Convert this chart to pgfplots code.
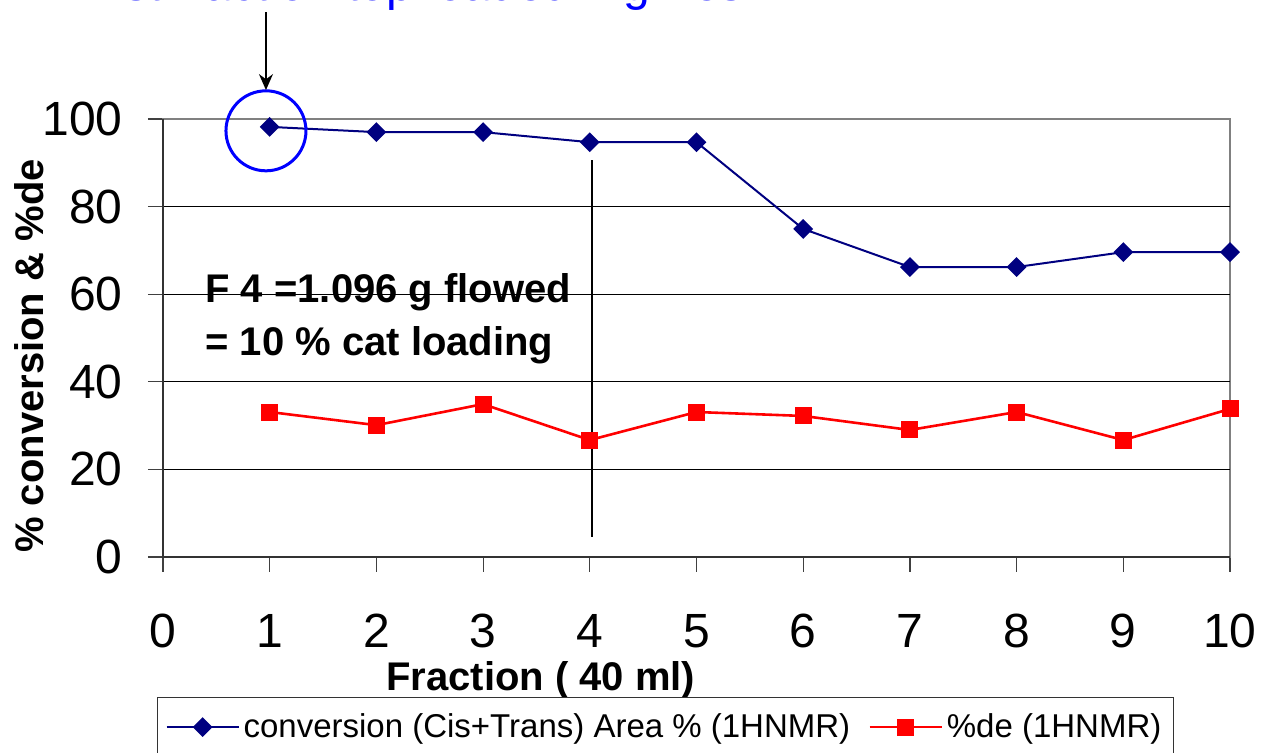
\documentclass[border=0pt]{standalone}
\usepackage{fontspec}
\setmainfont{Liberation Sans}
\usepackage{pgfplots}
\pgfplotsset{compat=1.18}
\usetikzlibrary{arrows.meta}
\definecolor{convblue}{RGB}{0,0,128}

\begin{document}
\begin{tikzpicture}
\path[use as bounding box] (-81.5pt,-98pt) rectangle (551pt,278.5pt);
\begin{axis}[
  at={(0,0)}, anchor=south west,
  scale only axis, width=533.5pt, height=219pt,
  xmin=0, xmax=10, ymin=0, ymax=100,
  xtick={0,...,10}, ytick={0,20,...,100},
  xtick pos=bottom, ytick pos=left, tick align=outside,
  major tick length=7.5pt,
  tick style={black!75, line width=0.6pt},
  axis line style={black!50, line width=0.9pt},
  /pgf/number format/assume math mode=true,
  tick label style={font=\fontsize{24}{28}\selectfont},
  yticklabel style={inner sep=0pt, anchor=east},
  yticklabel shift=12.5pt,
  xticklabel style={inner sep=0pt, anchor=base, yshift=-38pt},
  xlabel={Fraction ( 40 ml)},
  ylabel={\% conversion \& \%de},
  label style={font=\bfseries\fontsize{20}{24}\selectfont},
  xlabel style={at={(axis description cs:0.354,-0.304)}, anchor=base, inner sep=0pt},
  ylabel style={at={(axis description cs:-0.125,0.459)}, anchor=center},
  legend columns=2,
  legend style={at={(axis description cs:-0.0056,-0.3196)}, anchor=north west,
    draw=black!80, line width=0.6pt, font=\fontsize{16.5}{19}\selectfont,
    inner xsep=4pt, inner ysep=6pt,
    /tikz/every even column/.append style={column sep=7pt}},
  legend image code/.code={\draw[#1, mark repeat=2, mark phase=2] plot coordinates {(0pt,0pt) (18pt,0pt) (36pt,0pt)};},
  clip=false,
]
% horizontal grid lines
\draw[black, line width=0.5pt] (axis cs:0,20) -- (axis cs:10,20);
\draw[black, line width=0.5pt] (axis cs:0,40) -- (axis cs:10,40);
\draw[black, line width=0.5pt] (axis cs:0,60) -- (axis cs:10,60);
\draw[black, line width=0.5pt] (axis cs:0,80) -- (axis cs:10,80);
\draw[black!80, line width=1pt] (axis cs:0,100) -- (axis cs:0,0) -- (axis cs:10,0);

\addplot[convblue, line width=1pt, mark=square*, mark size=3pt, mark options={rotate=45, solid}] coordinates {
  (1,98.2) (2,97.0) (3,97.0) (4,94.7) (5,94.7)
  (6,74.9) (7,66.2) (8,66.2) (9,69.6) (10,69.6)
};
\addlegendentry{conversion (Cis+Trans) Area \% (1HNMR)}

\addplot[red, line width=1.3pt, mark=square*, mark size=3.6pt, mark options={solid}] coordinates {
  (1,33.1) (2,30.1) (3,34.9) (4,26.7) (5,33.1)
  (6,32.2) (7,29.0) (8,33.1) (9,26.7) (10,33.8)
};
\addlegendentry{\%de (1HNMR)}

% annotations
\draw[black, line width=1pt] (axis cs:4.02,90.6) -- (axis cs:4.02,4.6);
\node[anchor=base west, inner sep=0pt, font=\bfseries\fontsize{20}{24}\selectfont] at (axis cs:0.394,58.2) {F 4 =1.096 g flowed};
\node[anchor=base west, inner sep=0pt, font=\bfseries\fontsize{20}{24}\selectfont] at (axis cs:0.394,46.1) {= 10 \% cat loading};
\draw[blue, line width=1.5pt] (axis cs:0.965,97.3) ellipse [x radius=20pt, y radius=20pt];
\draw[black, line width=0.75pt, -{Stealth[length=8pt, width=7pt]}] (axis cs:0.965,124.4) -- (axis cs:0.965,106.6);
\node[anchor=base west, inner sep=0pt, text=blue, font=\fontsize{24}{28}\selectfont] at (axis cs:-0.61,127.0) {1st fraction top loaded 1 g fresh};
\end{axis}
\end{tikzpicture}
\end{document}
